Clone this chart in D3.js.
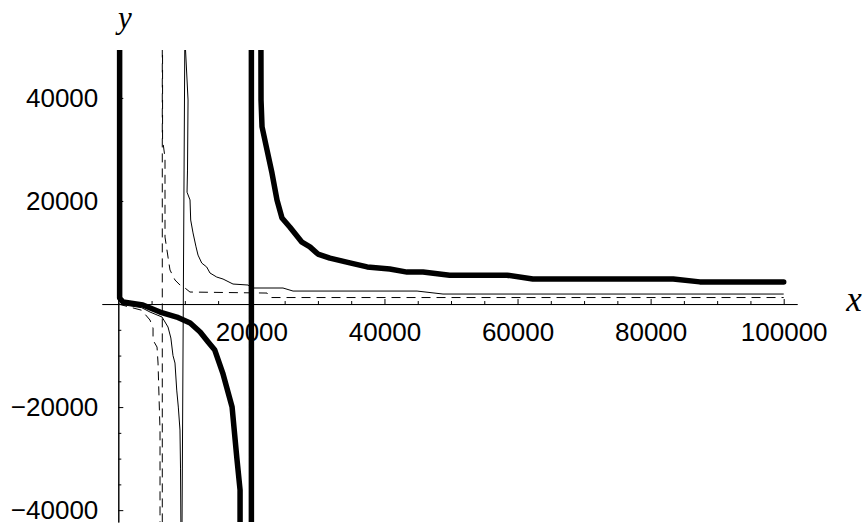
<!DOCTYPE html>
<html>
<head>
<meta charset="utf-8">
<script src="https://cdn.jsdelivr.net/npm/d3@7"></script>
<style>
  body { margin: 0; background: #fff; }
</style>
</head>
<body>
<div class="chart"></div>
<script>
// values, [x, y]
// +-1e6 stands in for the jumps to infinity at the poles
const thickCurve = [
  [180, 1e6], [200, 1160], [700, 390], [3700, -190], [6270, -1550], [8800, -2520],
  [10800, -3690], [12300, -5430], [13500, -7370], [14500, -8930], [15700, -13400],
  [17100, -20000], [17800, -29700], [18300, -36100], [18300, -43000],
  [20000, -1e6], [20000, 1e6],
  [21450, 39600], [21600, 34400], [22350, 29900], [23100, 25400], [23850, 20200],
  [24600, 16700], [25800, 14900], [27600, 12000], [28800, 11100], [30000, 9700],
  [31800, 8900], [34800, 8000], [37400, 7200], [40800, 6800], [43400, 6200],
  [45800, 6200], [49800, 5600], [58400, 5600], [62300, 4850], [83400, 4850],
  [87400, 4300], [100000, 4300]
]

const thinCurve = [
  [0, 0], [3500, -700], [4760, -1550], [6570, -2520], [7470, -4460], [7900, -6600],
  [8220, -10000], [8520, -11450], [8780, -16700], [9020, -20000], [9270, -24450],
  [9350, -32000], [9500, -60000],
  [10000, 52000], [10480, 39600], [10400, 26000], [10330, 21700], [10780, 20200],
  [10880, 16300], [11230, 13800], [11680, 11100], [11980, 9500], [12540, 7950],
  [13290, 7180], [13780, 6020], [14790, 5240], [15740, 4850], [17240, 3880],
  [19490, 3690], [20100, 3110], [24750, 3110], [26260, 2520], [44900, 2520],
  [48800, 1940], [100000, 1940]
]

const dashedCurve = [
  [0, 0], [3500, -1200], [4760, -3100], [5220, -4660], [5220, -7000], [5820, -8350],
  [5970, -11450], [6120, -18050], [6270, -24450], [6270, -40600],
  [6610, -1e6], [6610, 1e6],
  [6650, 32000], [7020, 28340], [7020, 13000], [7470, 9120], [7770, 6600],
  [8520, 4660], [9270, 3690], [10020, 3110], [10770, 2330], [22350, 2130],
  [22800, 1260], [100000, 1260]
]

const xTicks = [20000, 40000, 60000, 80000, 100000]
const yTicks = [-40000, -20000, 20000, 40000]

const width = 868
const height = 527
const fontFamily = '"Liberation Sans", Arial, sans-serif'
const serif = '"Liberation Serif", "Times New Roman", serif'

const x = d3.scaleLinear().domain([-2450, 102000]).range([102, 797])
const y = d3.scaleLinear().domain([-42300, 49300]).range([522, 50])

const svg = d3.select('.chart').append('svg')
  .attr('width', width)
  .attr('height', height)
  .attr('viewBox', [0, 0, width, height])

svg.append('clipPath').attr('id', 'plotClip')
  .append('rect')
  .attr('x', 102).attr('y', 50)
  .attr('width', 695).attr('height', 472)

// minor ticks every 5000
const xMinor = d3.range(5000, 100001, 5000).filter(v => !xTicks.includes(v))
const yMinor = d3.range(-40000, 45001, 5000).filter(v => v !== 0 && !yTicks.includes(v))

const styleAxis = g => {
  g.attr('font-family', fontFamily).attr('font-size', 26)
  g.selectAll('path, line').attr('stroke', '#000').attr('stroke-width', 1)
  g.selectAll('text').attr('fill', '#000')
}

svg.append('g')
  .attr('transform', `translate(0,${y(0)})`)
  .call(d3.axisBottom(x).tickValues(xMinor).tickSizeInner(-3).tickSizeOuter(0).tickFormat(''))
  .call(styleAxis)

svg.append('g')
  .attr('transform', `translate(0,${y(0)})`)
  .call(d3.axisBottom(x).tickValues(xTicks).tickSizeInner(-5).tickSizeOuter(0).tickPadding(19).tickFormat(d3.format('d')))
  .call(styleAxis)

svg.append('g')
  .attr('transform', `translate(${x(0)},0)`)
  .call(d3.axisLeft(y).tickValues(yMinor).tickSizeInner(-3).tickSizeOuter(0).tickFormat(''))
  .call(styleAxis)

svg.append('g')
  .attr('transform', `translate(${x(0)},0)`)
  .call(d3.axisLeft(y).tickValues(yTicks).tickSizeInner(-5).tickSizeOuter(0).tickPadding(20).tickFormat(d3.format('d')))
  .call(styleAxis)

// axis names
svg.append('text')
  .attr('x', 125).attr('y', 28)
  .attr('text-anchor', 'middle')
  .attr('font-family', serif)
  .attr('font-style', 'italic')
  .attr('font-size', 31)
  .text('y')

svg.append('text')
  .attr('x', 854).attr('y', 311)
  .attr('text-anchor', 'middle')
  .attr('font-family', serif)
  .attr('font-style', 'italic')
  .attr('font-size', 35)
  .text('x')

const line = d3.line().x(d => x(d[0])).y(d => y(d[1]))

const plot = svg.append('g').attr('clip-path', 'url(#plotClip)')

plot.append('path')
  .datum(thinCurve)
  .attr('d', line)
  .attr('fill', 'none')
  .attr('stroke', '#000')
  .attr('stroke-width', 1)

plot.append('path')
  .datum(dashedCurve)
  .attr('d', line)
  .attr('fill', 'none')
  .attr('stroke', '#000')
  .attr('stroke-width', 1)
  .attr('stroke-dasharray', '9,6')

plot.append('path')
  .datum(thickCurve)
  .attr('d', line)
  .attr('fill', 'none')
  .attr('stroke', '#000')
  .attr('stroke-width', 5.5)
  .attr('stroke-linejoin', 'round')
  .attr('stroke-linecap', 'round')
</script>
</body>
</html>
